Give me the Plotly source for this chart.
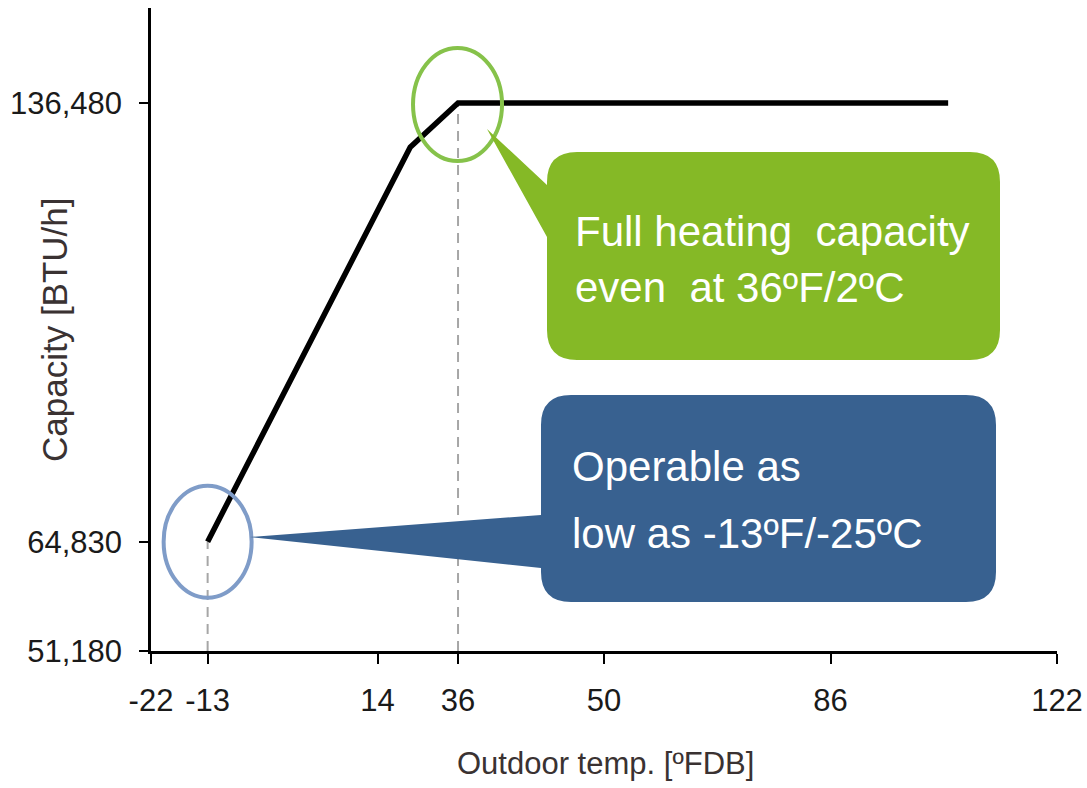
import plotly.graph_objects as go

# ---------------- data (positions) ----------------
temp_f = [-13, 19.2, 26.8, 104.7]
capacity = [68200, 129600, 136480, 136480]

x_tick_pos = [-22, -13, 14, 26.8, 50, 86, 122]
x_tick_labels = ["-22", "-13", "14", "36", "50", "86", "122"]
y_tick_pos = [51180, 68200, 136480]
y_tick_labels = ["51,180", "64,830", "136,480"]

low_limit = (-13, 68200)
full_cap = (26.8, 136480)

green_text = ["Full heating\u00a0 capacity", "even\u00a0 at 36ºF/2ºC"]
blue_text = ["Operable as", "low as -13ºF/-25ºC"]
x_title = "Outdoor temp. [ºFDB]"
y_title = "Capacity [BTU/h]"

# ---------------- figure ----------------
W, H = 1087, 788
L, R, T, B = 151, 1057, 8, 651
X_RANGE = [-22, 122]
Y_RANGE = [51180, 51180 + (B - T) / (B - 103) * (136480 - 51180)]

SANS = "Liberation Sans, Arial, sans-serif"

GREEN = "#85B926"
GREEN_RING = "#86C24A"
BLUE = "#386190"
BLUE_RING = "#7F9CC8"


def px(x):
    return (x - L) / (R - L)


def py(y):
    return (B - y) / (B - T)


def callout_path(x0, y0, x1, y1, r, tip, base_top, base_bot):
    def P(x, y):
        return f"{px(x):.5f},{py(y):.5f}"
    s = f"M {P(x0 + r, y0)} L {P(x1 - r, y0)} Q {P(x1, y0)} {P(x1, y0 + r)} "
    s += f"L {P(x1, y1 - r)} Q {P(x1, y1)} {P(x1 - r, y1)} "
    s += f"L {P(x0 + r, y1)} Q {P(x0, y1)} {P(x0, y1 - r)} "
    s += f"L {P(x0, base_bot)} L {P(tip[0], tip[1])} L {P(x0, base_top)} "
    s += f"L {P(x0, y0 + r)} Q {P(x0, y0)} {P(x0 + r, y0)} Z"
    return s


fig = go.Figure()

fig.add_trace(go.Scatter(x=[low_limit[0], low_limit[0]], y=[Y_RANGE[0], low_limit[1]],
                         mode="lines", line=dict(color="#A6A6A6", width=2, dash="10px,7px"),
                         hoverinfo="skip", showlegend=False))
fig.add_trace(go.Scatter(x=[full_cap[0], full_cap[0]], y=[Y_RANGE[0], full_cap[1]],
                         mode="lines", line=dict(color="#A6A6A6", width=2, dash="10px,7px"),
                         hoverinfo="skip", showlegend=False))

fig.add_trace(go.Scatter(x=temp_f, y=capacity, mode="lines",
                         line=dict(color="black", width=5.5), showlegend=False))

shapes = []
shapes.append(dict(type="circle", xref="x", yref="y", xsizemode="pixel", ysizemode="pixel",
                   xanchor=low_limit[0], yanchor=low_limit[1], x0=-44, x1=44, y0=-56, y1=56,
                   line=dict(color=BLUE_RING, width=4), layer="above"))
shapes.append(dict(type="circle", xref="x", yref="y", xsizemode="pixel", ysizemode="pixel",
                   xanchor=full_cap[0], yanchor=full_cap[1], x0=-45, x1=44, y0=-58, y1=55,
                   line=dict(color=GREEN_RING, width=4), layer="above"))
shapes.append(dict(type="path", xref="paper", yref="paper",
                   path=callout_path(547, 152, 1000, 360, 30, (487, 129), 185, 237),
                   fillcolor=GREEN, line=dict(width=0), layer="above"))
shapes.append(dict(type="path", xref="paper", yref="paper",
                   path=callout_path(541, 395, 996, 602, 30, (250, 537), 515, 568),
                   fillcolor=BLUE, line=dict(width=0), layer="above"))

annotations = []
for txt, yc in zip(green_text, [231, 287]):
    annotations.append(dict(text=txt, xref="paper", yref="paper", x=px(573), y=py(yc),
                            xanchor="left", yanchor="middle", showarrow=False,
                            font=dict(family=SANS, size=42, color="white")))
for txt, yc in zip(blue_text, [467, 533]):
    annotations.append(dict(text=txt, xref="paper", yref="paper", x=px(570), y=py(yc),
                            xanchor="left", yanchor="middle", showarrow=False,
                            font=dict(family=SANS, size=42, color="white")))
annotations.append(dict(text=x_title, xref="paper", yref="paper", x=px(605), y=py(764),
                        xanchor="center", yanchor="middle", showarrow=False,
                        font=dict(family=SANS, size=31, color="#3a3232")))
annotations.append(dict(text=y_title, xref="paper", yref="paper", x=px(54), y=py(330),
                        xanchor="center", yanchor="middle", showarrow=False, textangle=-90,
                        font=dict(family=SANS, size=35, color="#3a3232")))

fig.update_layout(
    width=W, height=H,
    margin=dict(l=L, r=W - R, t=T, b=H - B, pad=0, autoexpand=False),
    paper_bgcolor="white", plot_bgcolor="white",
    shapes=shapes, annotations=annotations,
    showlegend=False,
    xaxis=dict(range=X_RANGE, tickvals=x_tick_pos, ticktext=x_tick_labels, tickangle=0,
               automargin=False, ticklabeloverflow="allow",
               showgrid=False, zeroline=False, showline=True, linecolor="black", linewidth=2.5,
               ticks="outside", ticklen=10, tickwidth=2, tickcolor="black",
               ticklabelstandoff=10,
               tickfont=dict(family=SANS, size=31, color="#1a1a1a")),
    yaxis=dict(range=Y_RANGE, tickvals=y_tick_pos, ticktext=y_tick_labels,
               automargin=False, ticklabeloverflow="allow",
               showgrid=False, zeroline=False, showline=True, linecolor="black", linewidth=2.5,
               ticks="outside", ticklen=9, tickwidth=2, tickcolor="black",
               ticklabelstandoff=11,
               tickfont=dict(family=SANS, size=31, color="#1a1a1a")),
)

fig.write_html("out.html", config={"displayModeBar": False},
               post_script="document.body.style.margin='0';document.body.style.overflow='hidden';")
